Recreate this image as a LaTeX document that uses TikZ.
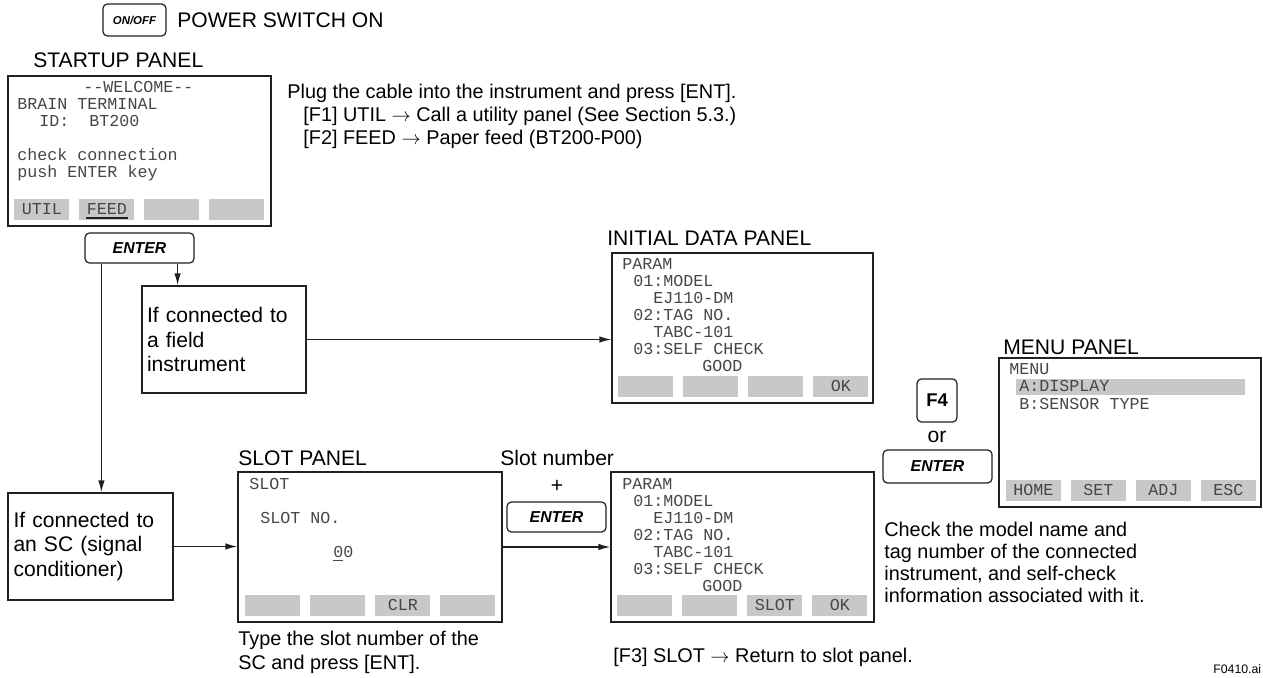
\documentclass[tikz,border=0pt]{standalone}
\usepackage{fontspec}
\setmainfont{Liberation Sans}
\setmonofont{Liberation Mono}
\usetikzlibrary{arrows.meta,positioning,calc}
\definecolor{keygray}{RGB}{200,200,200}
\definecolor{ink}{RGB}{35,31,32}
\definecolor{lcd}{RGB}{70,70,70}
\tikzset{
  panel/.style={rectangle,draw=ink,line width=.7pt,inner sep=0pt},
  softkey/.style={rectangle,fill=keygray,minimum width=1.1cm,minimum height=.42cm,inner sep=0pt,font=\ttfamily\fontsize{9.5}{10}\selectfont,text=lcd},
  lcdtxt/.style={anchor=base west,inner sep=0pt,font=\ttfamily\fontsize{9.5}{10}\selectfont,text=lcd},
  keybox/.style={rectangle,draw=ink,line width=.7pt,rounded corners=2.5pt,inner sep=0pt,font=\bfseries\itshape\fontsize{9}{10}\selectfont},
  cond/.style={rectangle,draw=ink,line width=.7pt,align=left,inner xsep=.1cm,inner ysep=0pt,text width=3.08cm,minimum width=3.28cm,minimum height=2.14cm,font=\fontsize{12}{14.2}\selectfont},
  title/.style={anchor=base west,inner sep=0pt,font=\fontsize{12}{14}\selectfont},
  note/.style={anchor=base west,inner sep=0pt,font=\fontsize{11.3}{13}\selectfont},
  arr/.style={line width=.8pt,ink,-{Latex[length=2.4mm,width=1.3mm]}},
  every picture/.style={baseline={(current bounding box.center)}}
}

\begin{document}
\begin{tikzpicture}[x=0.02cm,y=-0.02cm]
  \useasboundingbox (0,0) rectangle (1263,678);

  \node[keybox,minimum width=1.26cm,minimum height=.64cm,font=\bfseries\itshape\fontsize{6.5}{7}\selectfont] (onoff) at (134.5,20) {ON/OFF};
  \node[title] (pwr) at (177,27.5) {POWER SWITCH ON};

  % startup panel
  \node[title] (stt) at (33,67.5) {STARTUP PANEL};
  \node[panel,minimum width=5.26cm,minimum height=3cm] (st) at (139.5,151) {};
  \foreach \dx/\k/\t in {75/0/-{}-WELCOME-{}-,9/1/BRAIN\ TERMINAL,31/2/ID:\ \ BT200,9/4/check\ connection,9/5/push\ ENTER\ key}
    \node[lcdtxt] (st-\k) at (8+\dx,93+17*\k) {\t};
  \foreach \i/\t in {0/UTIL,1/FEED,2/,3/}
    \node[softkey] (su-\i) at ([shift={(34.5+65*\i,-17.5)}]st.south west) {\t};
  \draw[line width=1.2pt,ink] ($(su-1.center)+(-21,9)$) -- ++(42,0);

  \node[note] (plug) at (287,99) {Plug the cable into the instrument and press [ENT].};
  \node[note] (f1) at (303,122) {[F1] UTIL $\rightarrow$ Call a utility panel (See Section 5.3.)};
  \node[note] (f2) at (303,145) {[F2] FEED $\rightarrow$ Paper feed (BT200-P00)};

  \node[keybox,minimum width=2.18cm,minimum height=.6cm] (ent1) at (139.5,248) {ENTER};

  \node[cond] (fld) at (224,339.5) {If connected to\\a field\\instrument};
  \node[cond,minimum width=3.3cm] (sc) at (90.5,546.5) {If connected to\\an SC (signal\\conditioner)};

  % initial data panel and parameter panel
  \node[title] (init) at (607,245.5) {INITIAL DATA PANEL};
  \node[panel,minimum width=5.22cm,minimum height=3cm] (ini) at (742.5,328) {};
  \node[panel,minimum width=5.26cm,minimum height=3cm] (par) at (742.5,547) {};
  \foreach \pn/\T in {ini/253,par/472}
    \foreach \dx/\k/\t in {10/0/PARAM,21/1/01:MODEL,41/2/EJ110-DM,21/3/02:TAG\ NO.,41/4/TABC-101,21/5/03:SELF\ CHECK,90/6/GOOD}
      \node[lcdtxt] (\pn-\k) at (612+\dx,\T+17+17*\k) {\t};
  \foreach \i/\t in {0/,1/,2/,3/OK}
    \node[softkey] (iu-\i) at ([shift={(34.5+65*\i,-17.5)}]ini.south west) {\t};
  \foreach \i/\t in {0/,1/,2/SLOT,3/OK}
    \node[softkey] (pu-\i) at ([shift={(34.5+65*\i,-17.5)}]par.south west) {\t};

  % slot panel
  \node[title] (slt) at (238,465.5) {SLOT PANEL};
  \node[panel,minimum width=5.28cm,minimum height=3cm] (slot) at (370,547) {};
  \node[lcdtxt] (sl-0) at (249,489) {SLOT};
  \node[lcdtxt] (sl-1) at (260,523) {SLOT NO.};
  \node[lcdtxt] (sl-2) at (333,557) {00};
  \draw[line width=.5pt,lcd] (sl-2.base west) ++(0,3) -- ++(10,0);
  \foreach \i/\t in {0/,1/,2/CLR,3/}
    \node[softkey] (su2-\i) at ([shift={(35.5+65*\i,-17.5)}]slot.south west) {\t};
  \node[note] (type1) at (238,645) {Type the slot number of the};
  \node[note] (type2) at (238,669) {SC and press [ENT].};

  \node[title] (snum) at (500,465.5) {Slot number};
  \node[font=\fontsize{12}{14}\selectfont,inner sep=0pt] (plus) at (557,486) {+};
  \node[keybox,minimum width=1.98cm,minimum height=.6cm] (ent2) at (556.5,517) {ENTER};

  \node[note] (f3) at (613,662) {[F3] SLOT $\rightarrow$ Return to slot panel.};

  % menu panel
  \node[keybox,minimum width=.8cm,minimum height=.86cm,font=\bfseries\fontsize{10.5}{12}\selectfont] (f4) at (937,400.5) {F4};
  \node[font=\fontsize{12}{14}\selectfont,inner sep=0pt] (or) at (937,437) {or};
  \node[keybox,minimum width=2.18cm,minimum height=.66cm] (ent3) at (937.5,466.5) {ENTER};

  \node[title] (mnt) at (1003,354.5) {MENU PANEL};
  \node[panel,minimum width=5.24cm,minimum height=2.98cm] (menu) at (1130,432.5) {};
  \fill[keygray] (1016,379) rectangle (1245,395);
  \node[lcdtxt] (mn-0) at (1009,375) {MENU};
  \node[lcdtxt] (mn-1) at (1019,392) {A:DISPLAY};
  \node[lcdtxt] (mn-2) at (1019,409) {B:SENSOR\ TYPE};
  \foreach \i/\t in {0/HOME,1/SET,2/ADJ,3/ESC}
    \node[softkey] (mu-\i) at ([shift={(35+65*\i,-17.5)}]menu.south west) {\t};

  \foreach \k/\t in {0/Check the model name and,1/tag number of the connected,2/{instrument, and self-check},3/information associated with it.}
    \node[note] (chk-\k) at (884,536+22.3*\k) {\t};

  \node[anchor=base west,inner sep=0pt,font=\fontsize{7}{8}\selectfont] (fig) at (1213,673) {F0410.ai};

  \draw[arr] ([xshift=-.34cm]ent1.south east) -- ([xshift=-.34cm]ent1.south east |- fld.north);
  \draw[arr] ([xshift=.34cm]ent1.south west) -- ([xshift=.34cm]ent1.south west |- sc.north);
  \draw[arr] (fld.east) -- (fld.east -| ini.west);
  \draw[arr] (sc.east) -- (sc.east -| slot.west);
  \draw[arr] (slot.east) -- (slot.east -| par.west);
\end{tikzpicture}
\end{document}
